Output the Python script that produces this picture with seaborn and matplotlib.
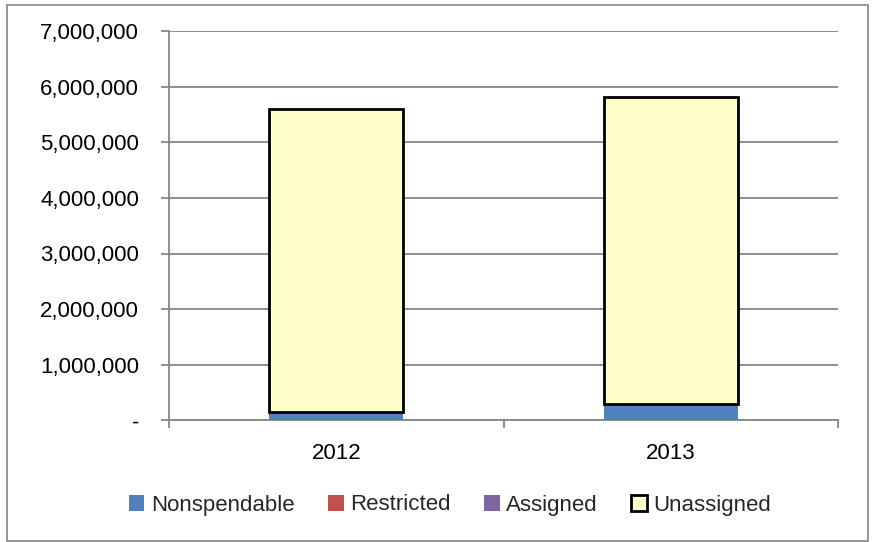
import numpy as np
import pandas as pd
import matplotlib
matplotlib.use("Agg")
import matplotlib.pyplot as plt
from matplotlib.patches import Patch, Rectangle
from matplotlib.ticker import FuncFormatter
import seaborn as sns


# Data

years = ["2012", "2013"]

nonspendable = [150000, 290000]
restricted = [0, 0]
assigned = [0, 0]
unassigned = [5450000, 5530000]

series_names = ["Nonspendable", "Restricted", "Assigned", "Unassigned"]
series_values = [nonspendable, restricted, assigned, unassigned]
series_colors = ["#4F81BD", "#C0504D", "#8064A2", "#FFFFCC"]
series_edges = [None, None, None, "black"]

y_ticks = [0, 1000000, 2000000, 3000000, 4000000, 5000000, 6000000, 7000000]


# ---------------------------------------------------

sns.set_theme(style="white")
plt.rcParams["font.family"] = ["Liberation Sans", "DejaVu Sans"]

grey = "#868686"

fig = plt.figure(figsize=(8.72, 5.42), dpi=100)
ax = fig.add_axes([169 / 872, 1 - 420.3 / 542, (838 - 169) / 872, (420.3 - 31.1) / 542])

bottom = np.zeros(len(years))

for name, vals, col, edge in zip(series_names, series_values, series_colors, series_edges):

    df = pd.DataFrame({"year": years, "value": vals})

    n_before = len(ax.patches)

    sns.barplot(
        data=df,
        x="year",
        y="value",
        color=col,
        saturation=1,
        width=0.4,
        edgecolor=edge if edge else "none",
        linewidth=2.0 if edge else 0,
        zorder=3,
        ax=ax)

    # stack the new bars on top of the previous ones
    for patch, b in zip(ax.patches[n_before:], bottom):
        patch.set_y(b)

    bottom = bottom + np.array(vals)


ax.set_ylim(0, 7000000)
ax.set_xlim(-0.5, 1.5)
ax.set_yticks(y_ticks)

ax.yaxis.set_major_formatter(
    FuncFormatter(lambda v, p: "-" if v == 0 else f"{int(v):,}"))

ax.set_xlabel("")
ax.set_ylabel("")

ax.yaxis.grid(True, color=grey, linewidth=1.3, zorder=0)
ax.set_axisbelow(True)

for s in ["top", "right"]:
    ax.spines[s].set_visible(False)

for s in ["left", "bottom"]:
    ax.spines[s].set_color(grey)
    ax.spines[s].set_linewidth(1.3)

# category ticks sit on the boundaries
ax.set_xticks([-0.5, 0.5, 1.5], minor=False)
ax.set_xticklabels(["", "", ""])
ax.set_xticks([0, 1], minor=True)
ax.set_xticklabels(years, minor=True)

ax.tick_params(axis="x", which="major", direction="out", length=6,
               width=1.3, color=grey, bottom=True)
ax.tick_params(axis="x", which="minor", length=0, pad=16,
               labelsize=16, labelcolor="black")
ax.tick_params(axis="y", direction="out", length=6, width=1.3,
               color=grey, left=True, pad=15.5,
               labelsize=16, labelcolor="black")


# Legend

handles = []

for name, col, edge in zip(series_names, series_colors, series_edges):

    handles.append(Patch(
        facecolor=col,
        edgecolor=edge if edge else col,
        linewidth=2.0 if edge else 0,
        label=name))

fig.legend(
    handles=handles,
    loc="center",
    bbox_to_anchor=(450 / 872, 1 - 505 / 542),
    ncol=4,
    frameon=False,
    fontsize=16,
    handlelength=0.7,
    handleheight=0.7,
    handletextpad=0.3,
    columnspacing=1.5)


# Chart border

fig.patches.append(Rectangle(
    (7 / 872, 1 / 542), 861 / 872, 536 / 542,
    transform=fig.transFigure,
    fill=False,
    edgecolor="#8C8C8C",
    linewidth=1.3))

plt.savefig("out.png", dpi=100)
